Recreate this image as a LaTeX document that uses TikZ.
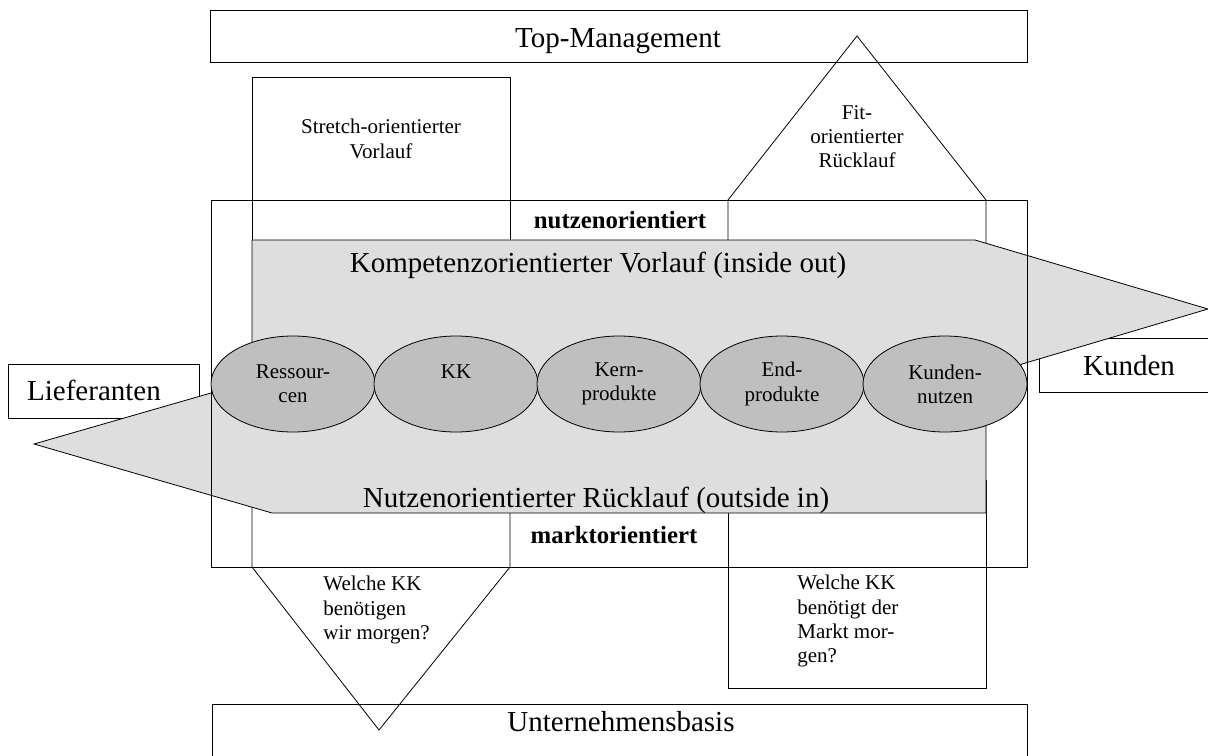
\documentclass[tikz,border=0pt]{standalone}
\usepackage{fontspec}
\setmainfont{Liberation Serif}
\usepackage{tikz}
\usetikzlibrary{positioning}
\usetikzlibrary{shapes.geometric}
\definecolor{arrowgray}{gray}{0.87}
\definecolor{kerngray}{gray}{0.75}
\tikzset{
  x = 0.5pt,
  y = -0.5pt,
  line width = 1pt,
  node distance = 81.5pt,
  kern/.style = {ellipse, draw, fill=kerngray, minimum width=82pt, minimum height=48pt,
    inner sep=0pt, align=center, font=\fontsize{10.5}{12.1}\selectfont},
  bigtext/.style = {font=\fontsize{14.5}{17}\selectfont, anchor=base, inner sep=0pt},
  boldtext/.style = {font=\fontsize{12.4}{14}\selectfont\bfseries, anchor=base, inner sep=0pt},
  smalltext/.style = {font=\fontsize{10.5}{12.1}\selectfont, inner sep=0pt},
}

\begin{document}
\begin{tikzpicture}
    \useasboundingbox (0,0) rectangle (1208,755);
    \draw (210,10) rectangle (1027,62);
    \draw (252,300) -- (252,77) -- (510,77) -- (510,300);
    \draw (728,300) -- (728,200) -- (857,36) -- (986,200) -- (986,300);
    \draw (252,480) -- (252,567) -- (379,730) -- (510,567) -- (510,480);
    \draw (728,480) -- (728,688) -- (986,688) -- (986,480);
    \draw (212,704) rectangle (1027,760);
    \draw (8,364) rectangle (199,418);
    \draw (1039,338) rectangle (1215,392);
    \draw [fill=arrowgray] (252,240) -- (975,240) -- (1208,309) -- (1022,364) -- (986,400)
      -- (986,513) -- (272,513) -- (34,444) -- (211,393) -- (252,370) -- cycle;
    \draw (211,200) rectangle (1027,567);
    \node [kern] (res) at (293,384) {Ressour-\\cen};
    \node [kern, right of = res] (kk) {KK\\\phantom{cen}};
    \node [kern, right of = kk] (kp) {Kern-\\produkte};
    \node [kern, right of = kp] (ep) {End-\\produkte};
    \node [kern, right of = ep] (kn) {Kunden-\\nutzen};
    \node [bigtext] (topm) at (618,47) {Top-Management};
    \node [bigtext] (basis) at (621,731) {Unternehmensbasis};
    \node [bigtext] (lief) at (94,400) {Lieferanten};
    \node [bigtext] (kunden) at (1129,375) {Kunden};
    \node [bigtext] (vorlauf) at (598,272) {Kompetenzorientierter Vorlauf (inside out)};
    \node [bigtext] (ruecklauf) at (596,507) {Nutzenorientierter Rücklauf (outside in)};
    \node [boldtext] (nutzen) at (620,228) {nutzenorientiert};
    \node [boldtext] (markt) at (614,543) {marktorientiert};
    \node [smalltext, anchor=north, align=center] (stretch) at (381,119) {Stretch-orientierter\\Vorlauf};
    \node [smalltext, anchor=north, align=center] (fit) at (857,105) {Fit-\\orientierter\\Rücklauf};
    \node [smalltext, anchor=north west, align=left] (wir) at (323,576) {Welche KK\\benötigen\\wir morgen?};
    \node [smalltext, anchor=north west, align=left] (markt2) at (797,575) {Welche KK\\benötigt der\\Markt mor-\\gen?};
  \end{tikzpicture}
\end{document}
